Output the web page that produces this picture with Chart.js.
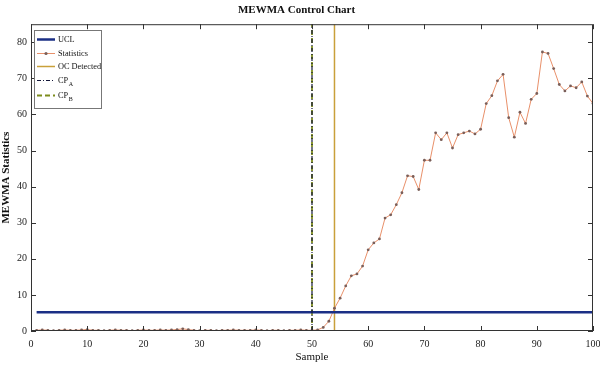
<!DOCTYPE html>
<html>
<head>
<meta charset="utf-8">
<script src="https://cdn.jsdelivr.net/npm/chart.js@4/dist/chart.umd.min.js"></script>
<style>
html,body{margin:0;padding:0;background:#fff;}
#wrap{width:600px;height:367px;position:relative;}
</style>
</head>
<body>
<div id="wrap"><canvas id="c" width="600" height="367"></canvas></div>
<script>
// ---- data ----
const samples = Array.from({length: 100}, (_, i) => i + 1);
const statistics = [
  0.2,0.3,0.2,0.1,0.2,0.3,0.2,0.2,0.3,0.4,
  0.2,0.2,0.1,0.2,0.3,0.2,0.2,0.1,0.2,0.3,
  0.2,0.2,0.3,0.2,0.3,0.4,0.6,0.4,0.2,0.1,
  0.2,0.2,0.1,0.2,0.2,0.3,0.2,0.2,0.2,0.3,
  0.2,0.1,0.2,0.2,0.1,0.2,0.2,0.3,0.2,0.2,
  0.3,1.0,2.7,6.3,9.1,12.5,15.3,15.8,18.0,22.5,
  24.4,25.5,31.3,32.2,35.0,38.3,43.0,42.8,39.2,47.3,
  47.3,54.9,53.0,54.9,50.7,54.4,54.9,55.4,54.6,55.9,
  63.0,65.2,69.3,71.1,59.1,53.7,60.6,57.5,64.2,65.8,
  77.3,76.9,72.7,68.3,66.5,67.9,67.4,69.0,65.1,63.0
];
const uclValue = 5.2;
const uclRange = [1, 100];
const ocDetected = 54;
const cpA = 50;
const cpB = 50;
const xTicks = [0,10,20,30,40,50,60,70,80,90,100];
const yTicks = [0,10,20,30,40,50,60,70,80];
const yRange = [0, 85];
const xRange = [0, 100];
const labels = ['UCL', 'Statistics', 'OC Detected', 'CP_A', 'CP_B'];

const SERIF = '"Liberation Serif", "DejaVu Serif", serif';

const frameTicksPlugin = {
  id: 'frameTicks',
  afterDatasetsDraw(chart) {
    const {ctx, chartArea: a, scales} = chart;
    ctx.save();
    ctx.strokeStyle = '#333';
    ctx.lineWidth = 1;
    ctx.strokeRect(a.left + 0.5, a.top + 0.5, a.right - a.left - 1, a.bottom - a.top - 1);
    ctx.beginPath();
    const tl = 5;
    xTicks.forEach(v => {
      const px = Math.round(scales.x.getPixelForValue(v)) + 0.5;
      ctx.moveTo(px, a.bottom); ctx.lineTo(px, a.bottom - tl);
      ctx.moveTo(px, a.top); ctx.lineTo(px, a.top + tl);
    });
    yTicks.forEach(v => {
      const py = Math.round(scales.y.getPixelForValue(v)) + 0.5;
      ctx.moveTo(a.left, py); ctx.lineTo(a.left + tl, py);
      ctx.moveTo(a.right, py); ctx.lineTo(a.right - tl, py);
    });
    ctx.stroke();

    // legend
    const bx = 34, by = 30, bw = 67, bh = 78;
    ctx.fillStyle = '#fff';
    ctx.fillRect(bx, by, bw, bh);
    ctx.strokeStyle = '#777';
    ctx.strokeRect(bx + 0.5, by + 0.5, bw, bh);
    const rows = [39, 53, 66, 80, 95];
    chart.data.datasets.forEach((ds, i) => {
      const y = rows[i] + 0.5;
      ctx.save();
      ctx.strokeStyle = ds.borderColor;
      ctx.lineWidth = ds.borderWidth;
      ctx.setLineDash(ds.borderDash || []);
      ctx.beginPath();
      ctx.moveTo(37, y); ctx.lineTo(55, y);
      ctx.stroke();
      if (ds.pointRadius > 0) {
        ctx.setLineDash([]);
        ctx.fillStyle = ds.pointBackgroundColor;
        ctx.beginPath(); ctx.arc(46, y, 1.6, 0, Math.PI * 2); ctx.fill();
      }
      ctx.restore();
      ctx.fillStyle = '#111';
      ctx.textBaseline = 'middle';
      ctx.textAlign = 'left';
      const parts = ds.label.split('_');
      ctx.font = '8.3px ' + SERIF;
      ctx.fillText(parts[0], 58, y);
      if (parts[1]) {
        const w = ctx.measureText(parts[0]).width;
        ctx.font = '6px ' + SERIF;
        ctx.fillText(parts[1], 58 + w + 0.5, y + 3.5);
      }
    });
    ctx.restore();
  }
};

new Chart(document.getElementById('c'), {
  type: 'line',
  data: {
    datasets: [
      {
        label: labels[0],
        data: uclRange.map(x => ({x, y: uclValue})),
        borderColor: '#1b2f85', borderWidth: 2.5, pointRadius: 0, order: 1
      },
      {
        label: labels[1],
        data: samples.map((s, i) => ({x: s, y: statistics[i]})),
        borderColor: '#e8906a', borderWidth: 1, pointRadius: 1.4,
        pointBackgroundColor: '#7a5e58', pointBorderWidth: 0, order: 2
      },
      {
        label: labels[2],
        data: yRange.map(y => ({x: ocDetected, y})),
        borderColor: '#c9a03a', borderWidth: 1.5, pointRadius: 0, order: 3
      },
      {
        label: labels[3],
        data: yRange.map(y => ({x: cpA, y})),
        borderColor: '#15183a', borderWidth: 1.2, borderDash: [4, 2, 1, 2], pointRadius: 0, order: 0
      },
      {
        label: labels[4],
        data: yRange.map(y => ({x: cpB, y})),
        borderColor: '#7d8c1c', borderWidth: 1.8, borderDash: [5, 3], pointRadius: 0, order: 5
      }
    ]
  },
  options: {
    responsive: false,
    animation: false,
    layout: {padding: {left: 0, right: 7, top: 0, bottom: 0}},
    plugins: {
      legend: {display: false},
      tooltip: {enabled: false},
      title: {
        display: true, text: 'MEWMA Control Chart', color: '#111',
        font: {family: SERIF, size: 11, weight: 'bold'},
        padding: {top: 4, bottom: 7}
      }
    },
    scales: {
      x: {
        type: 'linear', min: xRange[0], max: xRange[1],
        afterBuildTicks: s => { s.ticks = xTicks.map(v => ({value: v})); },
        afterFit: s => { s.height = 36; s.paddingLeft = 0; s.paddingRight = 0; },
        grid: {display: false, drawTicks: false},
        border: {display: false},
        ticks: {color: '#222', font: {family: SERIF, size: 10}, padding: 7, maxRotation: 0, autoSkip: false},
        title: {display: true, text: 'Sample', color: '#111', font: {family: SERIF, size: 11}, padding: {top: 0, bottom: 3}}
      },
      y: {
        type: 'linear', min: yRange[0], max: yRange[1],
        afterBuildTicks: s => { s.ticks = yTicks.map(v => ({value: v})); },
        afterFit: s => { s.width = 31; s.paddingTop = 0; s.paddingBottom = 0; },
        grid: {display: false, drawTicks: false},
        border: {display: false},
        ticks: {color: '#222', font: {family: SERIF, size: 10}, padding: 4},
        title: {display: true, text: 'MEWMA Statistics', color: '#111', font: {family: SERIF, size: 11, weight: 'bold'}, padding: {top: 0, bottom: 0}}
      }
    }
  },
  plugins: [frameTicksPlugin]
});
</script>
</body>
</html>
